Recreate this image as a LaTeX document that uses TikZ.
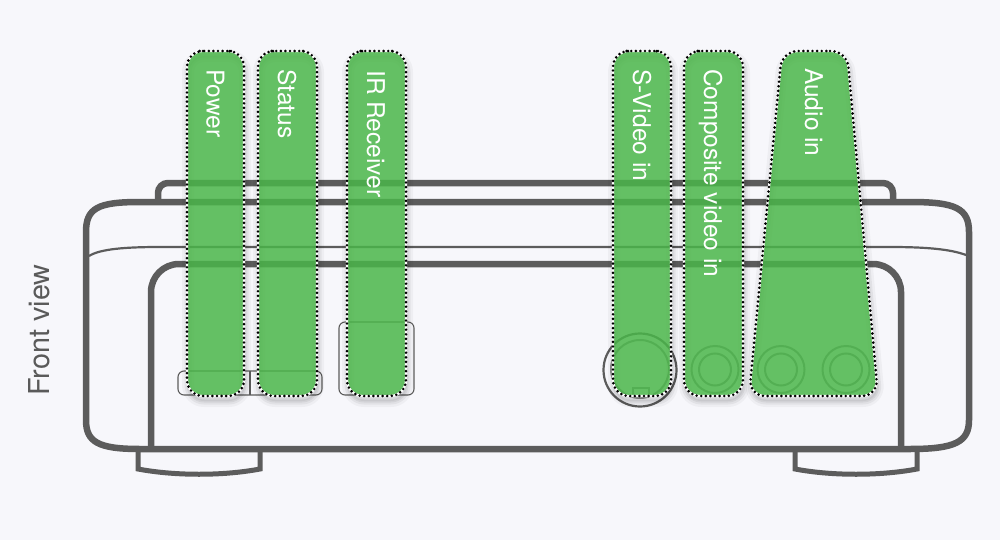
\documentclass[tikz,border=0pt]{standalone}
\usepackage{fontspec}
\setmainfont{TeX Gyre Heros}
\definecolor{bg}{HTML}{F7F7FB}
\definecolor{dev}{HTML}{5C5C5C}
\definecolor{jackc}{HTML}{8A8A8A}
\definecolor{grn}{RGB}{75,184,74}
\definecolor{fvc}{HTML}{5A5A5A}
\newcommand{\barP}{(215,51) -- (244,51) -- (244,396) -- (187,396) -- (187,51) -- cycle}
\newcommand{\barS}{(287,51) -- (317,51) -- (317,396) -- (258,396) -- (258,51) -- cycle}
\newcommand{\barIR}{(376,51) -- (406,51) -- (406,396) -- (347,396) -- (347,51) -- cycle}
\newcommand{\barSV}{(642,51) -- (671,51) -- (671,396) -- (613,396) -- (613,51) -- cycle}
\newcommand{\barCV}{(713,51) -- (743,51) -- (743,396) -- (684,396) -- (684,51) -- cycle}
\newcommand{\barAU}{(814,51) -- (847,51) -- (878,396) -- (749,396) -- (782,51) -- cycle}
\newcommand{\allbars}[1]{%
  \path[#1] \barP; \path[#1] \barS; \path[#1] \barIR;
  \path[#1] \barSV; \path[#1] \barCV; \path[#1] \barAU;}
\begin{document}
\begin{tikzpicture}[x=1pt,y=-1pt,
  devline/.style={draw=dev, line width=6.5pt},
  thinline/.style={draw=dev, line width=2.2pt},
  btn/.style={draw=dev, line width=1.1pt, rounded corners=6pt},
  jack/.style={draw=jackc, line width=2pt},
  barfill/.style={fill=grn, fill opacity=0.84, rounded corners=16pt},
  dotline/.style={draw=black, line width=2.9pt, line cap=round, dash pattern=on 0pt off 4.6pt, rounded corners=16pt},
  halo/.style={draw=white, line width=2.2pt, rounded corners=16pt},
  lbl/.style={text=white, font=\fontsize{24.5}{24.5}\selectfont, rotate=-90, anchor=base west, inner sep=0pt},
]
\fill[bg] (0,0) rectangle (1000,540);
\useasboundingbox (0,0) rectangle (1000,540);

% feet
\draw[devline, line width=5pt] (138,450) -- (138,469) .. controls (175,476) and (223,476) .. (260,469) -- (260,450);
\draw[devline, line width=5pt] (795,450) -- (795,469) .. controls (832,476) and (880,476) .. (917,469) -- (917,450);

% top bar
\draw[devline, rounded corners=10pt] (158,204) -- (158,183) -- (893,183) -- (893,204);

% outer body
\draw[devline] (140,202) -- (910,202) .. controls (955,202) and (969,208) .. (969,232)
  -- (969,420) .. controls (969,442) and (955,449) .. (910,449) -- (140,449)
  .. controls (98,449) and (86,442) .. (86,420) -- (86,232)
  .. controls (86,208) and (98,202) .. (140,202) -- cycle;

% thin line
\draw[thinline] (89,256) .. controls (100,249) and (125,247) .. (160,247) -- (890,247)
  .. controls (925,247) and (950,249) .. (966,255);

% inner body
\draw[devline, rounded corners=28pt] (151,449) -- (151,264) -- (901,264) -- (901,449);

% buttons
\draw[btn] (178,371) rectangle (322,395);
\draw[dev, line width=1.1pt] (250,371) -- (250,395);
\draw[btn] (339,322) rectangle (414,395);

% S-video jack
\draw[dev, line width=2.2pt] (640,370) circle[radius=36.5pt];
\draw[jack] (640,369) circle[radius=29pt];
\draw[jack] (633,396) -- (633,388) -- (649,388) -- (649,396);

% RCA jacks
\foreach \cx in {715,781,846} {
  \draw[jack] (\cx,369.5) circle[radius=23.5pt];
  \draw[jack] (\cx,369.5) circle[radius=16pt];
}

% shadows
\begin{scope}[shift={(1,5)}]
\allbars{fill=black, fill opacity=0.05, rounded corners=16pt}
\allbars{draw=black, draw opacity=0.035, line width=12pt, rounded corners=16pt}
\allbars{draw=black, draw opacity=0.05, line width=7pt, rounded corners=16pt}
\allbars{draw=black, draw opacity=0.06, line width=3pt, rounded corners=16pt}
\end{scope}

% green bars
\allbars{barfill}
\allbars{halo}
\allbars{dotline}

% labels
\node[lbl] (power) at (206.5,69) {Power};
\node[lbl] (status) at (278,69) {Status};
\node[lbl] (ir) at (367,70) {IR Receiver};
\node[lbl] (svideo) at (633,69) {S-Video in};
\node[lbl] (composite) at (704,69) {Composite video in};
\node[lbl] (audio) at (805,68) {Audio in};
\node[text=fvc, font=\fontsize{28.8}{28.8}\selectfont, rotate=90, anchor=base west, inner sep=0pt] (front) at (49,396) {Front view};
\end{tikzpicture}
\end{document}
